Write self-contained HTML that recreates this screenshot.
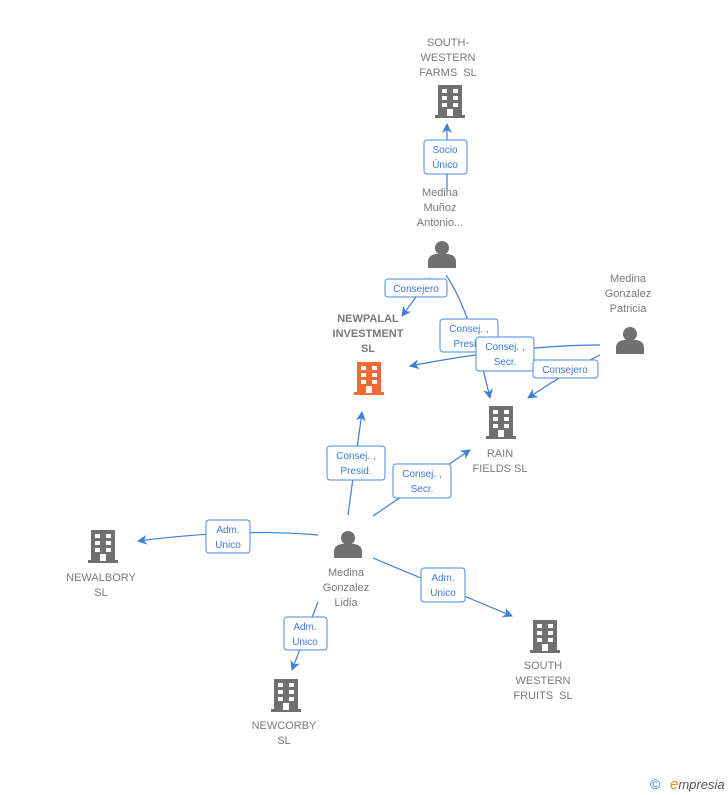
<!DOCTYPE html>
<html><head><meta charset="utf-8"><style>
body{margin:0;background:#fff;}
svg{display:block;font-family:"Liberation Sans",sans-serif;}
.n{fill:#7a7a7a;font-size:11px;text-anchor:middle;}
.b{fill:#7a7a7a;font-size:11px;text-anchor:middle;font-weight:bold;}
.l{fill:#3a7ad8;font-size:10px;text-anchor:middle;}
.e{fill:none;stroke:#3a7fd8;stroke-width:1.2;}
.bx{fill:#fff;stroke:#4a8ae0;stroke-width:1;}
</style></head><body>
<svg width="728" height="795" viewBox="0 0 728 795">
<defs>
<marker id="a" markerWidth="10" markerHeight="10" refX="9" refY="5" orient="auto" markerUnits="userSpaceOnUse"><path d="M0,0 L10,5 L0,10 L3,5 z" fill="#3a7fd8"/></marker>
<g id="bld"><rect x="-12" y="-17" width="24" height="31" fill="currentColor"/><rect x="-15" y="13" width="30" height="3" fill="currentColor"/>
<g fill="#fff"><rect x="-8" y="-13" width="5" height="4"/><rect x="3" y="-13" width="5" height="4"/><rect x="-8" y="-6" width="5" height="4"/><rect x="3" y="-6" width="5" height="4"/><rect x="-8" y="1" width="5" height="4"/><rect x="3" y="1" width="5" height="4"/><rect x="-3" y="7" width="6" height="7"/></g></g>
<g id="per" fill="#707070"><circle cx="0" cy="-6" r="7"/><path d="M-14,14 L-14,8 Q-14,1 -6,0 L6,0 Q14,1 14,8 L14,14 z"/></g>
</defs>
<g class="e">
<path d="M447,190 L447,124" marker-end="url(#a)"/>
<path d="M430,278 L402,316" marker-end="url(#a)"/>
<path d="M446,275 Q470,310 490,398" marker-end="url(#a)"/>
<path d="M600,345 Q520,345 410,366" marker-end="url(#a)"/>
<path d="M600,355 Q570,370 528,398" marker-end="url(#a)"/>
<path d="M348,515 L362,412" marker-end="url(#a)"/>
<path d="M373,516 L470,450" marker-end="url(#a)"/>
<path d="M318,535 Q240,528 138,541" marker-end="url(#a)"/>
<path d="M318,602 L292,670" marker-end="url(#a)"/>
<path d="M373,558 L512,616" marker-end="url(#a)"/>
</g>
<g>
<rect class="bx" x="424" y="140" width="43" height="34" rx="3"/><text class="l" x="445" y="153">Socio</text><text class="l" x="445" y="168">Único</text>
<rect class="bx" x="385" y="279" width="62" height="18" rx="3"/><text class="l" x="416" y="292">Consejero</text>
<rect class="bx" x="440" y="319" width="58" height="33" rx="3"/><text class="l" x="469" y="332">Consej. ,</text><text class="l" x="469" y="347">Presid.</text>
<rect class="bx" x="476" y="337" width="58" height="34" rx="3"/><text class="l" x="505" y="350">Consej. ,</text><text class="l" x="505" y="365">Secr.</text>
<rect class="bx" x="533" y="360" width="65" height="18" rx="3"/><text class="l" x="565" y="373">Consejero</text>
<rect class="bx" x="327" y="446" width="58" height="34" rx="3"/><text class="l" x="356" y="459">Consej. ,</text><text class="l" x="356" y="474">Presid.</text>
<rect class="bx" x="393" y="464" width="58" height="34" rx="3"/><text class="l" x="422" y="477">Consej. ,</text><text class="l" x="422" y="492">Secr.</text>
<rect class="bx" x="206" y="520" width="44" height="33" rx="3"/><text class="l" x="228" y="533">Adm.</text><text class="l" x="228" y="548">Unico</text>
<rect class="bx" x="284" y="617" width="43" height="33" rx="3"/><text class="l" x="305" y="630">Adm.</text><text class="l" x="305" y="645">Unico</text>
<rect class="bx" x="421" y="568" width="44" height="34" rx="3"/><text class="l" x="443" y="581">Adm.</text><text class="l" x="443" y="596">Unico</text>
</g>
<use href="#bld" x="450" y="102" color="#707070"/>
<text class="n" x="448" y="46">SOUTH-</text><text class="n" x="448" y="61">WESTERN</text><text class="n" x="448" y="76">FARMS&#160; SL</text>
<text class="n" x="440" y="196">Medina</text><text class="n" x="440" y="211">Muñoz</text><text class="n" x="440" y="226">Antonio...</text>
<use href="#per" x="442" y="254"/>
<text class="b" x="368" y="322">NEWPALAL</text><text class="b" x="368" y="337">INVESTMENT</text><text class="b" x="368" y="352">SL</text>
<use href="#bld" x="369" y="379" color="#f06a35"/>
<text class="n" x="628" y="282">Medina</text><text class="n" x="628" y="297">Gonzalez</text><text class="n" x="628" y="312">Patricia</text>
<use href="#per" x="630" y="340"/>
<use href="#bld" x="501" y="423" color="#707070"/>
<text class="n" x="500" y="457">RAIN</text><text class="n" x="500" y="472">FIELDS SL</text>
<use href="#per" x="348" y="544"/>
<text class="n" x="346" y="576">Medina</text><text class="n" x="346" y="591">Gonzalez</text><text class="n" x="346" y="606">Lidia</text>
<use href="#bld" x="103" y="547" color="#707070"/>
<text class="n" x="101" y="581">NEWALBORY</text><text class="n" x="101" y="596">SL</text>
<use href="#bld" x="286" y="696" color="#707070"/>
<text class="n" x="284" y="729">NEWCORBY</text><text class="n" x="284" y="744">SL</text>
<use href="#bld" x="545" y="637" color="#707070"/>
<text class="n" x="543" y="669">SOUTH</text><text class="n" x="543" y="684">WESTERN</text><text class="n" x="543" y="699">FRUITS&#160; SL</text>
<text x="650" y="789" style="font-size:14px;fill:#2a7ab8">©</text>
<text x="670" y="789" style="font-size:13px;font-style:italic;fill:#555"><tspan style="fill:#f08a20;font-size:15px">e</tspan>mpresia</text>
</svg>
</body></html>
